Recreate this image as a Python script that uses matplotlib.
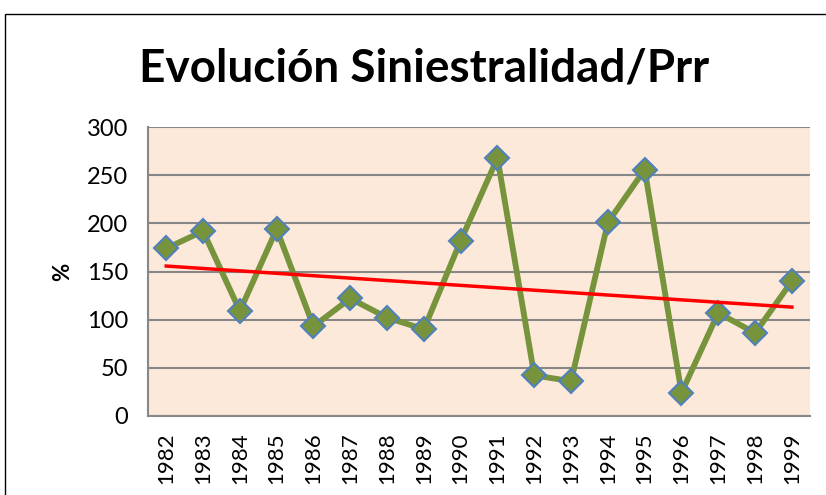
import numpy as np
import matplotlib
matplotlib.use('Agg')
import matplotlib.pyplot as plt
from matplotlib.patches import Rectangle

# Data
years = ['1982', '1983', '1984', '1985', '1986', '1987', '1988', '1989', '1990',
         '1991', '1992', '1993', '1994', '1995', '1996', '1997', '1998', '1999']
siniestralidad = [174, 192, 109, 194, 93, 122, 102, 90, 182,
                  268, 42, 36, 201, 256, 24, 107, 86, 140]
y_ticks = [0, 50, 100, 150, 200, 250, 300]

plt.rcParams['font.family'] = ['Lato', 'DejaVu Sans']

fig = plt.figure(figsize=(8.26, 4.95), dpi=100)
ax = fig.add_axes([0.179, 0.160, 0.802, 0.583])

x = np.arange(len(years))
ax.set_facecolor('#FCE9DA')

ax.plot(x, siniestralidad, color='#77933C', linewidth=4.2, marker='D', markersize=12,
        markerfacecolor='#77933C', markeredgecolor='#4F81BD', markeredgewidth=1.5, zorder=3)

# linear trend line
coef = np.polyfit(x, siniestralidad, 1)
ax.plot(x, np.polyval(coef, x), color='#FF0000', linewidth=2.5, zorder=4)

ax.set_xlim(-0.5, len(years) - 0.5)
ax.set_ylim(0, 300)
ax.set_yticks(y_ticks)
ax.set_xticks(x)
ax.set_xticklabels(years, rotation=90, fontsize=16)
ax.tick_params(axis='y', labelsize=17, length=0, pad=14)
ax.tick_params(axis='x', length=0, pad=12)
ax.yaxis.grid(True, color='#878787', linewidth=1.5)
ax.set_axisbelow(True)
for s in ['top', 'right']:
    ax.spines[s].set_visible(False)
ax.spines['left'].set_color('#878787')
ax.spines['bottom'].set_color('#878787')
ax.spines['left'].set_linewidth(1.5)
ax.spines['bottom'].set_linewidth(1.5)

ax.set_ylabel('%', fontsize=16, fontweight='bold', labelpad=10)

fig.text(0.513, 0.862, 'Evolución Siniestralidad/Prr', fontsize=33, fontweight='bold',
         ha='center', va='center')

# chart border
fig.patches.append(Rectangle((5 / 826, -0.1), 1.1, 0.1 + (495 - 14) / 495,
                             transform=fig.transFigure, fill=False,
                             edgecolor='black', linewidth=1))

plt.savefig('out.png', dpi=100)
